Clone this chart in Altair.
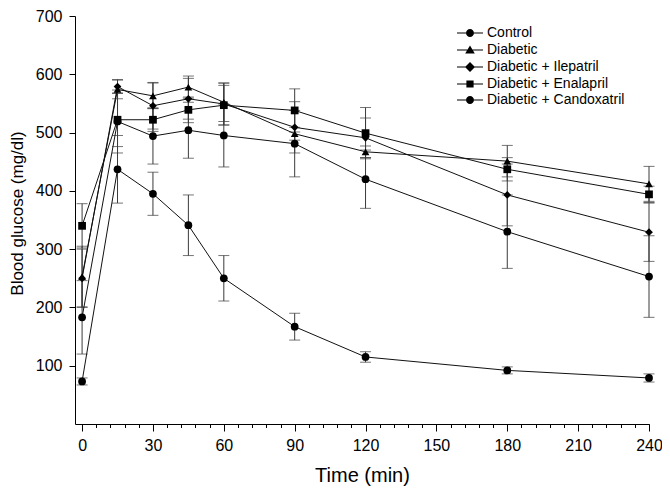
import altair as alt
import pandas as pd

# ---- data ----
times = [0, 15, 30, 45, 60, 90, 120, 180, 240]
series = ["Control", "Diabetic", "Diabetic + Ilepatril", "Diabetic + Enalapril", "Diabetic + Candoxatril"]

control = [73, 437, 395, 341, 250, 167, 115, 92, 79]
control_err = [6, 58, 37, 52, 39, 23, 9, 6, 7]

diabetic = [253, 574, 563, 578, 552, 498, 467, 451, 412]
diabetic_err = [52, 16, 22, 19, 33, 11, 10, 27, 30]

ilepatril = [250, 579, 546, 558, 549, 509, 491, 393, 329]
ilepatril_err = [50, 12, 40, 35, 36, 44, 34, 53, 50]

enalapril = [340, 522, 522, 539, 547, 538, 499, 437, 394]
enalapril_err = [38, 46, 20, 22, 34, 37, 44, 20, 14]

candoxatril = [183, 519, 494, 504, 495, 481, 420, 330, 253]
candoxatril_err = [63, 54, 48, 48, 54, 57, 50, 63, 70]

x_major = list(range(0, 241, 30))
x_minor = list(range(0, 241, 6))
y_ticks = [100, 200, 300, 400, 500, 600, 700]

shapes = ["circle", "triangle-up", "diamond", "square", "circle"]
# legend glyphs: short horizontal line with the marker in the middle
legend_paths = [
    "M-13,-0.5H-4V0.5H-13Z M4,-0.5H13V0.5H4Z M-4,0A4,4 0 1,0 4,0A4,4 0 1,0 -4,0Z",
    "M-13,-0.5H-2.6V0.5H-13Z M2.6,-0.5H13V0.5H2.6Z M0,-4.5L4.8,3.5L-4.8,3.5Z",
    "M-13,-0.5H-4.6V0.5H-13Z M4.6,-0.5H13V0.5H4.6Z M0,-5L5,0L0,5L-5,0Z",
    "M-13,-0.5H-3.6V0.5H-13Z M3.6,-0.5H13V0.5H3.6Z M-3.6,-3.6H3.6V3.6H-3.6Z",
    "M-13,-0.5H-4V0.5H-13Z M4,-0.5H13V0.5H4Z M-4,0A4,4 0 1,0 4,0A4,4 0 1,0 -4,0Z",
]

values = [control, diabetic, ilepatril, enalapril, candoxatril]
errors = [control_err, diabetic_err, ilepatril_err, enalapril_err, candoxatril_err]

rows = []
for name, vals, errs in zip(series, values, errors):
    for t, v, e in zip(times, vals, errs):
        rows.append({"t": t, "v": v, "lo": v - e, "hi": v + e, "series": name})
df = pd.DataFrame(rows)

FONT = "Liberation Sans"
ERR = "#3a3a3a"

x_scale = alt.Scale(domain=[-3, 240], nice=False, zero=False)
y_scale = alt.Scale(domain=[0, 700], nice=False)

x_axis = alt.Axis(
    values=x_major,
    tickSize=7,
    labelOverlap=False,
    labelFlush=False,
    labelFontSize=16,
    labelPadding=6,
    labelFont=FONT,
    labelColor="black",
    title="Time (min)",
    titleFont=FONT,
    titleFontSize=20,
    titleFontWeight="normal",
    titleColor="black",
    titlePadding=12,
    grid=False,
    domainColor="black",
    tickColor="black",
    orient="bottom",
)

x_minor_axis = alt.Axis(
    values=x_minor,
    tickSize=3.5,
    labels=False,
    domain=False,
    title=None,
    grid=False,
    tickColor="black",
    orient="bottom",
)

y_axis = alt.Axis(
    values=y_ticks,
    tickSize=6,
    labelFlush=False,
    labelOverlap=False,
    labelFontSize=16,
    labelPadding=7,
    labelFont=FONT,
    labelColor="black",
    title="Blood glucose (mg/dl)",
    titleFont=FONT,
    titleFontSize=17,
    titleFontWeight="normal",
    titleColor="black",
    titleX=-49,
    titleY=197,
    grid=False,
    domainColor="black",
    tickColor="black",
)

base = alt.Chart(df)

err_rules = base.mark_rule(color=ERR, strokeWidth=1).encode(
    x=alt.X("t:Q", scale=x_scale, axis=x_axis),
    y=alt.Y("lo:Q", scale=y_scale, axis=y_axis),
    y2="hi:Q",
)
cap_lo = base.mark_tick(color=ERR, orient="horizontal", size=11, thickness=1).encode(
    x=alt.X("t:Q", axis=None), y="lo:Q"
)
cap_hi = base.mark_tick(color=ERR, orient="horizontal", size=11, thickness=1).encode(
    x=alt.X("t:Q", axis=None), y="hi:Q"
)
lines = base.mark_line(color="#111", strokeWidth=1).encode(
    x=alt.X("t:Q", scale=x_scale, axis=x_minor_axis),
    y="v:Q",
    detail="series:N",
    order="t:Q",
)
points = base.mark_point(filled=True, color="black", opacity=1, size=60).encode(
    x=alt.X("t:Q", axis=None),
    y="v:Q",
    shape=alt.Shape("series:N", scale=alt.Scale(domain=series, range=shapes), legend=None),
)
legend_layer = (
    base.transform_filter("false")
    .mark_point(filled=True, color="black", opacity=1, size=4)
    .encode(
        shape=alt.Shape(
            "series:N",
            scale=alt.Scale(domain=series, range=legend_paths),
            legend=alt.Legend(
                title=None,
                orient="none",
                legendX=388,
                legendY=10,
                padding=0,
                offset=0,
                symbolSize=4,
                symbolFillColor="black",
                labelFont=FONT,
                labelFontSize=14,
                labelColor="black",
                labelOffset=10,
                rowPadding=2,
                labelLimit=300,
            ),
        )
    )
)

chart = (
    alt.layer(err_rules, cap_lo, cap_hi, lines, points, legend_layer)
    .resolve_scale(shape="independent")
    .resolve_axis(x="independent")
    .properties(
        width=574,
        height=408,
        padding={"left": 67, "top": 8, "right": 13, "bottom": 70},
        autosize=alt.AutoSizeParams(type="none"),
        background="white",
    )
    .configure_view(stroke=None)
)

chart.save("out.html", embed_options={"renderer": "svg", "actions": False})
